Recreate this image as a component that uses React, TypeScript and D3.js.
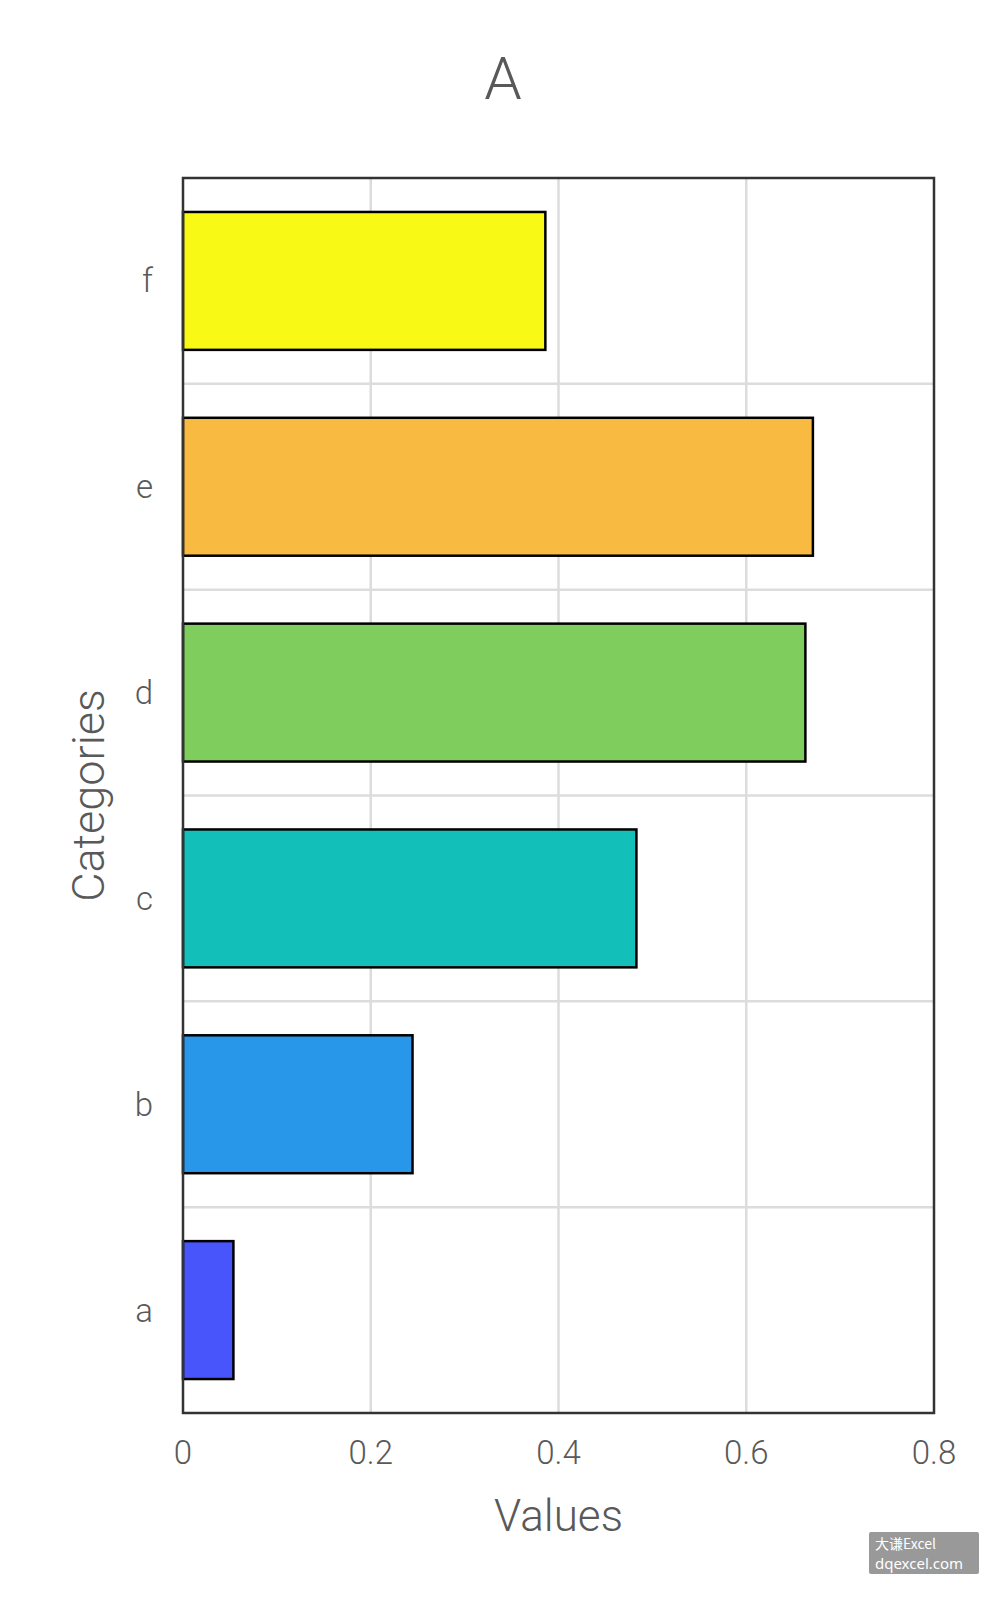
import React from "react";
import * as d3 from "d3";

const categories = ["a", "b", "c", "d", "e", "f"];
const values = [0.0537, 0.2445, 0.483, 0.663, 0.671, 0.386];
const colors = ["#4755fa", "#2896e9", "#12bfb9", "#7fcd5d", "#f9ba41", "#f8f915"];
const xTicks = [0, 0.2, 0.4, 0.6, 0.8];
const xTickLabels = ["0", "0.2", "0.4", "0.6", "0.8"];
const title = "A";
const xTitle = "Values";
const yTitle = "Categories";

const W = 1008;
const H = 1604;
const left = 183;
const right = 934;
const top = 178;
const bottom = 1413;
const font = "Roboto, 'Open Sans', sans-serif";
const textColor = "#595959";

export default function App() {
  const x = d3.scaleLinear().domain([0, 0.8]).range([left, right]);
  const y = d3
    .scaleBand<string>()
    .domain([...categories].reverse())
    .range([top, bottom])
    .paddingInner(0.33)
    .paddingOuter(0.165);
  const band = d3.scaleBand<string>().domain([...categories].reverse()).range([top, bottom]);
  const boundaries = band.domain().slice(1).map((c) => band(c) as number);

  return (
    <div style={{ position: "absolute", left: 0, top: 0 }}>
      <svg width={W} height={H} style={{ display: "block", background: "#fff" }}>
        <rect x={0} y={0} width={W} height={H} fill="#fff" />
        {xTicks.slice(1, -1).map((t) => (
          <line key={"gx" + t} x1={x(t)} x2={x(t)} y1={top} y2={bottom} stroke="#dcdcdc" strokeWidth={2.5} />
        ))}
        {boundaries.map((b, i) => (
          <line key={"gy" + i} x1={left} x2={right} y1={b} y2={b} stroke="#dcdcdc" strokeWidth={2.5} />
        ))}
        {categories.map((c, i) => (
          <rect
            key={c}
            x={x(0)}
            y={y(c)}
            width={x(values[i]) - x(0)}
            height={y.bandwidth()}
            fill={colors[i]}
            stroke="#000"
            strokeWidth={2.5}
          />
        ))}
        <rect x={left} y={top} width={right - left} height={bottom - top} fill="none" stroke="#333" strokeWidth={2.5} />
        {xTicks.map((t, i) => (
          <text key={"tx" + t} x={x(t)} y={1464} textAnchor="middle" fontFamily={font} fontWeight={300} fontSize={33} fill={textColor}>
            {xTickLabels[i]}
          </text>
        ))}
        {categories.map((c) => (
          <text
            key={"ty" + c}
            x={153}
            y={(y(c) as number) + y.bandwidth() / 2}
            dy="0.35em"
            textAnchor="end"
            fontFamily={font}
            fontWeight={300}
            fontSize={33}
            fill={textColor}
          >
            {c}
          </text>
        ))}
        <text x={(left + right) / 2} y={1531} textAnchor="middle" fontFamily={font} fontWeight={300} fontSize={44} fill={textColor}>
          {xTitle}
        </text>
        <text
          transform={`translate(104,${(top + bottom) / 2}) rotate(-90)`}
          textAnchor="middle"
          fontFamily={font}
          fontWeight={300}
          fontSize={45}
          fill={textColor}
        >
          {yTitle}
        </text>
        <text x={503} y={99} textAnchor="middle" fontFamily={font} fontWeight={300} fontSize={60} fill={textColor}>
          {title}
        </text>
        <rect x={869} y={1532} width={110} height={42} rx={2} fill="#999" />
        <text x={875} y={1549} fontFamily="'Noto Sans CJK SC', sans-serif" fontSize={14} fill="#fff">
          大谦Excel
        </text>
        <text x={875} y={1569} fontFamily="'Noto Sans', sans-serif" fontSize={15} fill="#fff">
          dqexcel.com
        </text>
      </svg>
    </div>
  );
}
